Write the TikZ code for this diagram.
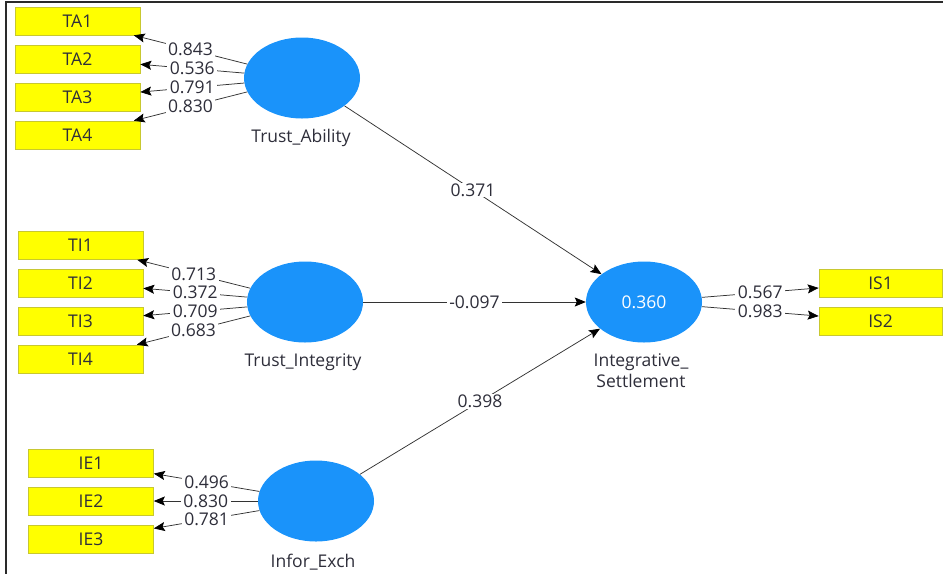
\documentclass[tikz,border=0pt]{standalone}
\usepackage{fontspec}
\setmainfont{Open Sans}
\usetikzlibrary{shapes.geometric,arrows.meta}
\definecolor{latblue}{HTML}{1A93FA}
\definecolor{indyel}{HTML}{FFFF00}
\definecolor{indbord}{HTML}{C8C830}
\definecolor{txtc}{HTML}{2E2E3A}
\definecolor{linec}{HTML}{333333}
\definecolor{bordc}{HTML}{2A2A2A}
\begin{document}
\begin{tikzpicture}[x=1pt,y=-1pt,
  ind/.style={draw=indbord, fill=indyel, minimum width=125pt, minimum height=28pt, inner sep=0pt, font=\fontsize{17.5}{20}\selectfont, text=txtc, line width=0.6pt},
  lat/.style={ellipse, fill=latblue, minimum width=116pt, minimum height=81pt, inner sep=0pt, font=\fontsize{17.5}{20}\selectfont, text=white},
  latname/.style={font=\fontsize{17.5}{21}\selectfont, text=txtc, align=center, inner sep=0pt},
  ld/.style={fill=white, inner xsep=2.5pt, inner ysep=0.8pt, font=\fontsize{17.5}{20}\selectfont, text=txtc},
  arr/.style={draw=linec, line width=0.75pt, -{Stealth[length=11pt,width=9pt,inset=2pt,black]}},
  bord/.style={draw=bordc, line width=1.6pt}]
\useasboundingbox (0,0) rectangle (943,574);
% frame
\draw[bord] (943,2) -| (6,574);
% indicator boxes
\node[ind] (TA1) at (77.5,21) {TA1};
\node[ind] (TA2) at (77.5,59) {TA2};
\node[ind] (TA3) at (77.5,97.5) {TA3};
\node[ind] (TA4) at (77.5,135) {TA4};
\node[ind] (TI1) at (80.5,245.5) {TI1};
\node[ind] (TI2) at (80.5,283) {TI2};
\node[ind] (TI3) at (80.5,321) {TI3};
\node[ind] (TI4) at (80.5,359) {TI4};
\node[ind] (IE1) at (91,463) {IE1};
\node[ind] (IE2) at (91,501) {IE2};
\node[ind] (IE3) at (91,539) {IE3};
\node[ind, minimum width=123pt] (IS1) at (880.5,283) {IS1};
\node[ind, minimum width=123pt] (IS2) at (880.5,321) {IS2};
% latent variables
\node[lat] (TAb) at (302,78) {};
\node[lat] (TIn) at (305,302) {};
\node[lat] (IEx) at (316,501) {};
\node[lat] (ISt) at (644,302) {0.360};
\node[latname] (TAbl) at (301,138) {Trust\_Ability};
\node[latname] (TInl) at (303,362) {Trust\_Integrity};
\node[latname] (IExl) at (313,562) {Infor\_Exch};
\node[latname] (IStl) at (641,370.5) {Integrative\_\\Settlement};
% outer loadings
\draw[arr] (TAb) -- node[ld]{0.843} (TA1);
\draw[arr] (TAb) -- node[ld]{0.536} (TA2);
\draw[arr] (TAb) -- node[ld]{0.791} (TA3);
\draw[arr] (TAb) -- node[ld]{0.830} (TA4);
\draw[arr] (TIn) -- node[ld]{0.713} (TI1);
\draw[arr] (TIn) -- node[ld]{0.372} (TI2);
\draw[arr] (TIn) -- node[ld]{0.709} (TI3);
\draw[arr] (TIn) -- node[ld]{0.683} (TI4);
\draw[arr] (IEx) -- node[ld]{0.496} (IE1);
\draw[arr] (IEx) -- node[ld]{0.830} (IE2);
\draw[arr] (IEx) -- node[ld]{0.781} (IE3);
\draw[arr] (ISt) -- node[ld]{0.567} (IS1);
\draw[arr] (ISt) -- node[ld]{0.983} (IS2);
% path coefficients
\draw[arr] (TAb) -- node[ld]{0.371} (ISt);
\draw[arr] (TIn) -- node[ld]{-0.097} (ISt);
\draw[arr] (IEx) -- node[ld]{0.398} (ISt);
\end{tikzpicture}
\end{document}
